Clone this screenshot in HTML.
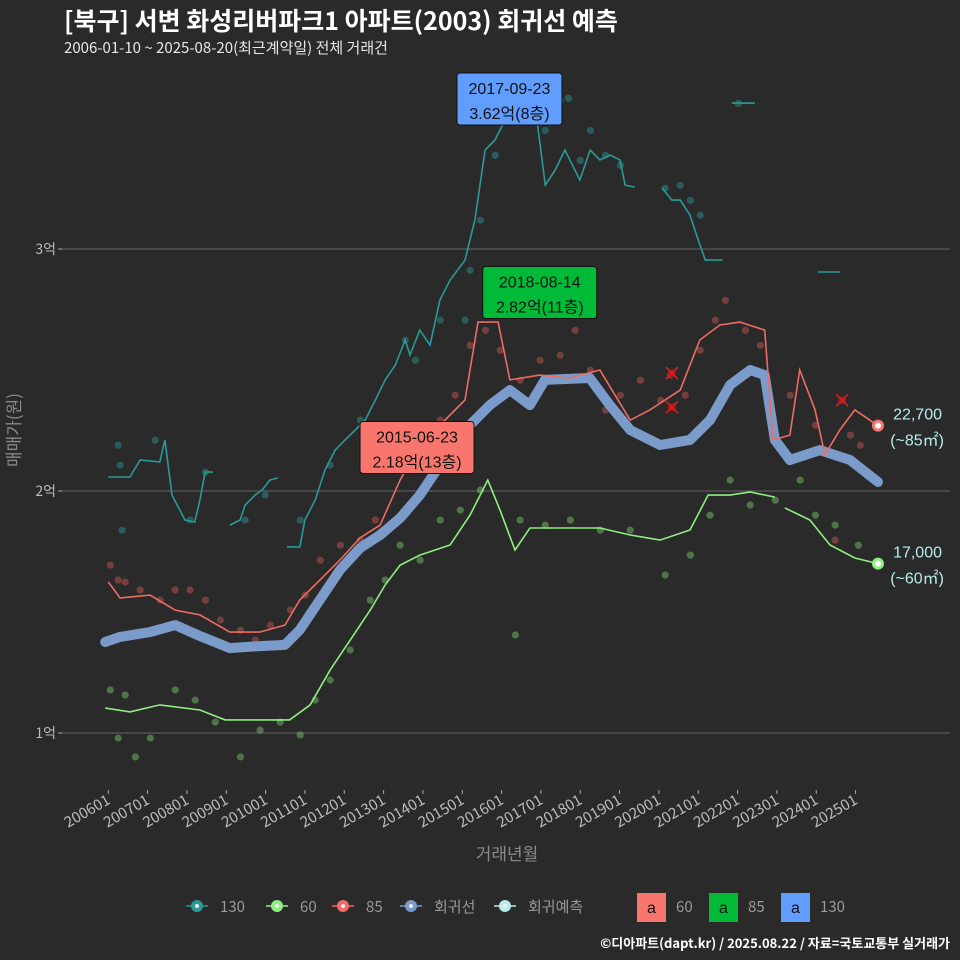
<!DOCTYPE html>
<html><head><meta charset="utf-8">
<style>
html,body{margin:0;padding:0;background:#2a2a2b;}
svg{display:block;font-family:"Liberation Sans","Noto Sans CJK KR",sans-serif;}
.nt{font-family:"Noto Sans CJK KR","Liberation Sans",sans-serif;}
</style></head>
<body>
<svg id="chart" width="960" height="960" viewBox="0 0 960 960">
<rect x="0" y="0" width="960" height="960" fill="#2a2a2b"/>
<text class="nt" x="64" y="30" font-size="25" font-weight="bold" fill="#ffffff">[북구] 서변 화성리버파크1 아파트(2003) 회귀선 예측</text>
<text class="nt" x="64" y="53" font-size="15" fill="#e8e8e8">2006-01-10 ~ 2025-08-20(최근계약일) 전체 거래건</text>
<g id="grid"></g>
<g id="yaxis"></g>
<g id="xaxis"></g>
<g id="points"></g>
<g id="lines"></g>
<g id="annots"></g>
<text class="nt" x="20" y="430" font-size="17" fill="#8a8a8a" text-anchor="middle" transform="rotate(-90 20 430)">매매가(원)</text>
<text class="nt" x="507" y="860" font-size="17" fill="#8a8a8a" text-anchor="middle">거래년월</text>
<g id="legend"></g>
<text class="nt" x="950" y="948" font-size="13" font-weight="bold" fill="#ffffff" text-anchor="end">©디아파트(dapt.kr) / 2025.08.22 / 자료=국토교통부 실거래가</text>
</svg>
<script>
// ---- data (time = decimal year, price = 만원) ----
const yTicks = [10000, 20000, 30000];
const yTickLabels = ["1억", "2억", "3억"];
const xTickYears = [2006,2007,2008,2009,2010,2011,2012,2013,2014,2015,2016,2017,2018,2019,2020,2021,2022,2023,2024,2025];
const xTickLabels = ["200601","200701","200801","200901","201001","201101","201201","201301","201401","201501","201601","201701","201801","201901","202001","202101","202201","202301","202401","202501"];

const regT = [2005.92,2006.30,2007.06,2007.70,2008.33,2009.09,2009.85,2010.49,2010.87,2011.38,2011.89,2012.40,2012.91,2013.42,2013.92,2014.43,2014.94,2015.70,2016.21,2016.72,2017.10,2018.24,2018.75,2019.27,2020.03,2020.79,2021.30,2021.81,2022.32,2022.69,2022.95,2023.33,2024.09,2024.86,2025.57];
const regP = [13760,13970,14170,14460,14010,13510,13590,13640,14260,15500,16740,17640,18180,18880,19830,21070,22310,23550,24170,23550,24590,24670,23550,22520,21900,22110,22930,24380,25000,24790,22110,21280,21690,21280,20370];

const redT = [2006.0,2006.3,2007.06,2007.7,2008.33,2009.09,2009.85,2010.49,2010.87,2011.38,2011.89,2012.4,2012.91,2013.42,2013.92,2014.69,2015.07,2015.40,2015.91,2016.21,2016.97,2017.73,2018.5,2018.88,2019.27,2019.77,2020.54,2021.04,2021.55,2022.06,2022.69,2022.9,2023.33,2023.58,2023.97,2024.22,2024.6,2024.98,2025.57];
const redP = [16240,15580,15700,15080,14880,14170,14170,14460,15500,16320,17150,18060,18590,20450,21900,23140,23760,26980,26980,24590,24790,24670,25000,23970,22930,23350,24170,26240,26860,26980,26650,22110,22310,25000,23350,21490,22520,23350,22700];

const greenT = [2005.92,2006.55,2007.31,2008.33,2008.97,2009.85,2010.61,2011.13,2011.64,2012.15,2012.66,2013.04,2013.42,2013.92,2014.69,2015.2,2015.65,2015.96,2016.34,2016.72,2017.48,2018.5,2019.27,2020.03,2020.79,2021.25,2021.81,2022.32,2022.95,null,2023.2,2023.84,2024.35,2024.98,2025.57];
const greenP = [11030,10870,11160,10950,10540,10540,10540,11160,12600,13840,15080,16120,16940,17350,17770,19010,20450,19210,17560,18470,18470,18470,18180,17970,18390,19830,19830,19960,19750,null,19300,18800,17770,17230,17000];

const tealT = [2006.0,2006.55,2006.81,2007.31,2007.44,2007.62,2007.95,2008.2,2008.33,2008.46,2008.66,null,2009.09,2009.35,2009.48,2009.73,2009.91,2010.11,2010.31,null,2010.54,2010.87,2011.0,2011.26,2011.51,2011.77,2012.02,2012.28,2012.53,2012.79,2013.04,2013.3,2013.55,2013.67,2013.92,2014.18,2014.43,2014.69,2015.07,2015.32,2015.58,2015.83,2016.09,2016.47,2016.85,2017.11,2017.36,2017.61,2017.99,2018.25,2018.5,2018.76,2019.01,2019.14,2019.39,null,2020.08,2020.33,2020.54,2020.79,2021.0,2021.18,2021.62,null,2021.85,2022.44,null,2024.04,2024.6];
const tealP = [20580,20580,21280,21200,22110,19830,18800,18720,19630,20780,20780,null,18590,18800,19420,19830,20040,20450,20540,null,17690,17690,18800,19630,20870,21690,22110,22520,22930,23760,24590,25210,26240,25620,26650,26030,27890,28720,29540,31200,34090,34500,35330,36160,35950,32640,33260,34090,32850,34090,33680,33880,33680,32640,32560,null,32520,32020,32020,31400,30370,29540,29540,null,36030,36030,null,29050,29050];

const redDotT = [2006.05,2006.25,2006.43,2006.81,2007.32,2007.70,2008.08,2008.47,2008.85,2009.36,2009.74,2010.12,2010.63,2011.01,2011.39,2011.90,2012.41,2012.79,2013.30,2013.68,2013.93,2014.44,2014.82,2015.20,2015.59,2015.97,2016.47,2016.98,2017.49,2017.87,2018.26,2018.64,2019.02,2019.53,2020.04,2020.29,2020.67,2021.05,2021.43,2021.69,2022.20,2022.58,2023.34,2023.98,2024.48,2024.87,2025.12];
const redDotP = [16940,16320,16240,15910,15490,15910,15910,15490,14670,14250,13840,14460,15080,15700,17140,17760,17970,18800,20860,21690,22100,22930,23960,26020,26640,25820,24580,25400,25610,26640,24990,23340,23960,24580,23750,24790,23960,25820,27060,27880,26640,26020,23960,22720,17970,22310,21890];

const greenDotT = [2006.05,2006.25,2006.43,2006.69,2007.07,2007.70,2008.21,2008.72,2009.36,2009.86,2010.37,2010.88,2011.26,2011.64,2012.15,2012.66,2013.04,2013.42,2013.93,2014.44,2014.95,2015.46,2016.35,2016.47,2017.11,2017.75,2018.51,2019.27,2020.16,2020.80,2021.30,2021.81,2022.32,2022.96,2023.59,2023.98,2024.48,2025.07];
const greenDotP = [11780,9790,11570,9010,9790,11780,11360,10450,9010,10120,10450,9920,11360,12190,13430,15490,16320,17760,17140,18800,19210,20040,14050,18800,18590,18800,18380,18380,16530,17350,19000,20450,19420,19620,20450,19000,18590,17760];

const tealDotT = [2006.25,2006.30,2006.35,2007.19,2008.08,2008.47,2009.48,2009.99,2010.88,2011.64,2012.41,2013.55,2013.81,2014.44,2015.07,2015.20,2015.46,2015.84,2016.22,2016.73,2017.11,2017.49,2017.70,2018.00,2018.26,2018.64,2019.02,2020.16,2020.54,2020.80,2021.05,2022.02];
const tealDotP = [21890,21070,18380,22100,18800,20780,18800,19830,18800,21070,22930,26230,25400,27060,27060,29120,31190,33870,35320,36140,34900,36140,36230,33660,34900,33870,33460,32510,32630,32010,31390,36020];

const crossT = [2020.33,2020.33,2024.66];
const crossP = [24870,23460,23750];

const annDates = ["2017-09-23","2018-08-14","2015-06-23"];
const annValues = ["3.62억(8층)","2.82억(11층)","2.18억(13층)"];
const annT = [2016.20,2016.97,2013.85];
const annP = [36200,28200,21800];

// ---- scales ----
const NS = "http://www.w3.org/2000/svg";
function xs(t){ return 108.3 + (t-2006)*39.33; }
function ys(p){ return 733 - (p-10000)*0.0242; }
function mk(tag, attrs, parent){
  const e = document.createElementNS(NS, tag);
  for (const k in attrs) e.setAttribute(k, attrs[k]);
  parent.appendChild(e); return e;
}
const grid = document.getElementById('grid');
const yaxis = document.getElementById('yaxis');
const xaxis = document.getElementById('xaxis');
const pts = document.getElementById('points');
const lines = document.getElementById('lines');
const annots = document.getElementById('annots');
const legend = document.getElementById('legend');

yTicks.forEach((v,i)=>{
  const gl = mk('line',{x1:62,x2:950,y1:ys(v),y2:ys(v),stroke:'#5a5a5a','stroke-width':1.2},grid);
  
  
  mk('line',{x1:58,x2:62,y1:ys(v),y2:ys(v),stroke:'#aaa'},yaxis);
  const tl = mk('text',{x:56,y:ys(v)+5,'font-size':14,fill:'#bbbbbb','text-anchor':'end','class':'nt'},yaxis);
  tl.textContent = yTickLabels[i];
  
  
});
xTickYears.forEach((yr,i)=>{
  const x = xs(yr);
  mk('line',{x1:x,x2:x,y1:790,y2:794,stroke:'#aaa'},xaxis);
  const tl = mk('text',{x:x+3,y:803,'font-size':15,fill:'#bbbbbb','text-anchor':'end','class':'nt',transform:`rotate(-30 ${x+3} 803)`},xaxis);
  tl.textContent = xTickLabels[i];
  
  
});

function dots(T,P,color,name){
  T.forEach((t,i)=>{
    const c = mk('circle',{cx:xs(t),cy:ys(P[i]),r:3.6,fill:color,'fill-opacity':0.45},pts);
    
    
  });
}
dots(redDotT,redDotP,'#d05a52','point-85');
dots(greenDotT,greenDotP,'#7fcc6f','point-60');
dots(tealDotT,tealDotP,'#2b9a96','point-130');

function pathOf(T,P){
  let d='', pen=false;
  T.forEach((t,i)=>{
    if (t===null){ pen=false; return; }
    d += (pen?'L':'M') + xs(t).toFixed(1) + ' ' + ys(P[i]).toFixed(1) + ' ';
    pen = true;
  });
  return d;
}
const reg = mk('path',{d:pathOf(regT,regP),fill:'none',stroke:'#7b9ccb','stroke-width':10,'stroke-linejoin':'round','stroke-linecap':'round'},lines);


const teal = mk('path',{d:pathOf(tealT,tealP),fill:'none',stroke:'#2b9a96','stroke-width':1.6},lines);


const red = mk('path',{d:pathOf(redT,redP),fill:'none',stroke:'#ef6b63','stroke-width':1.6},lines);


const green = mk('path',{d:pathOf(greenT,greenP),fill:'none',stroke:'#90ee80','stroke-width':1.6},lines);



crossT.forEach((t,i)=>{
  const x=xs(t), y=ys(crossP[i]);
  const g = mk('g',{},lines);
  
  
  mk('circle',{cx:x,cy:y,r:4,fill:'#a01818'},g);
  mk('path',{d:`M${x-6} ${y-6}L${x+6} ${y+6}M${x-6} ${y+6}L${x+6} ${y-6}`,stroke:'#e02020','stroke-width':1.5},g);
});

function endMark(t,p,color,v1,v2,name){
  const x=xs(t), y=ys(p);
  const g = mk('g',{},annots);
  
  
  mk('circle',{cx:x,cy:y,r:6,fill:color},g);
  mk('circle',{cx:x,cy:y,r:3,fill:'#ffffff'},g);
  const a = mk('text',{x:942,y:y-6,'font-size':16,fill:'#b8ecec','text-anchor':'end'},g); a.textContent=v1;
  const b = mk('text',{x:944,y:y+20,'font-size':16,fill:'#b8ecec','text-anchor':'end'},g); b.textContent=v2;
}
endMark(redT[redT.length-1],redP[redP.length-1],'#f8766d','22,700','(~85㎡)','end-label-85');
endMark(greenT[greenT.length-1],greenP[greenP.length-1],'#90ee80','17,000','(~60㎡)','end-label-60');

const annColors = ['#619cff','#00ba38','#f8766d'];
annDates.forEach((d,i)=>{
  const cx = xs(annT[i]), cy = ys(annP[i]);
  const w = (i===0)?105:114, h=52;
  const g = mk('g',{},annots);
  
  
  mk('rect',{x:cx-w/2,y:cy-h/2,width:w,height:h,rx:3,fill:annColors[i],stroke:'#111','stroke-width':1},g);
  const t1 = mk('text',{x:cx,y:cy-5,'font-size':16,fill:'#111','text-anchor':'middle'},g); t1.textContent=d;
  const t2 = mk('text',{x:cx,y:cy+20,'font-size':16,fill:'#111','text-anchor':'middle'},g); t2.textContent=annValues[i];
});

const legItems = [['130','#2b9a96'],['60','#90ee80'],['85','#ef6b63'],['회귀선','#7b9ccb'],['회귀예측','#b8ecec']];
let lx = 186;
const legWidths = [80,66,68,94,100];
legItems.forEach((it,i)=>{
  const g = mk('g',{},legend);
  
  
  mk('line',{x1:lx,x2:lx+22,y1:906,y2:906,stroke:it[1],'stroke-width':1.5},g);
  mk('circle',{cx:lx+11,cy:906,r:6,fill:it[1]},g);
  mk('circle',{cx:lx+11,cy:906,r:2,fill:'#eee'},g);
  const t = mk('text',{x:lx+34,y:912,'font-size':15,fill:'#999','class':'nt'},g); t.textContent=it[0];
  lx += legWidths[i];
});
const boxItems = [['60','#f8766d'],['85','#00ba38'],['130','#619cff']];
let bx = 637;
boxItems.forEach((it)=>{
  const g = mk('g',{},legend);
  
  
  mk('rect',{x:bx,y:893,width:29,height:29,fill:it[1]},g);
  const a = mk('text',{x:bx+14.5,y:913,'font-size':16,fill:'#111','text-anchor':'middle'},g); a.textContent='a';
  const t = mk('text',{x:bx+39,y:912,'font-size':15,fill:'#999','class':'nt'},g); t.textContent=it[0];
  bx += 72;
});
</script>
</body></html>
